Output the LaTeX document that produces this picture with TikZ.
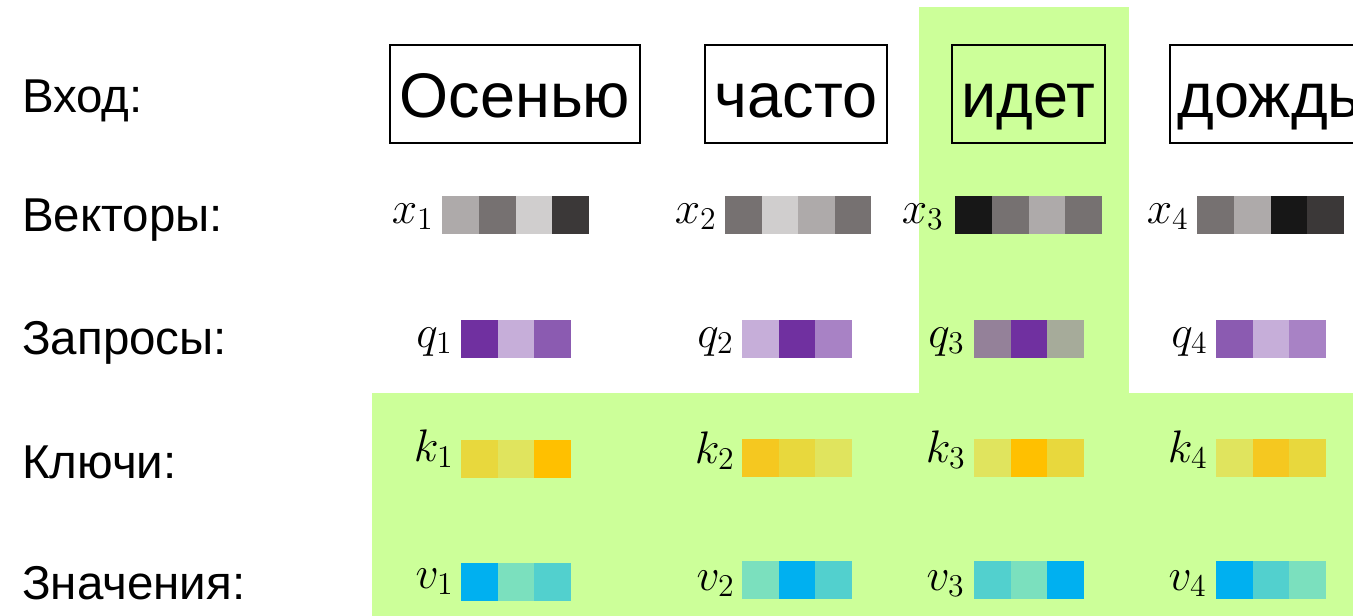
\documentclass[tikz,border=0pt]{standalone}
\usepackage{graphicx}
\usepackage{fontspec}
\setmainfont{Liberation Sans}
\definecolor{hl}{HTML}{CCFF99}
\definecolor{g1}{HTML}{AEAAAA}
\definecolor{g2}{HTML}{767171}
\definecolor{g3}{HTML}{D0CECE}
\definecolor{g4}{HTML}{3B3838}
\definecolor{g5}{HTML}{171717}
\definecolor{p1}{HTML}{7030A0}
\definecolor{p2}{HTML}{C6AED9}
\definecolor{p3}{HTML}{8B5BB1}
\definecolor{p4}{HTML}{A882C5}
\definecolor{p5}{HTML}{948199}
\definecolor{p6}{HTML}{A6AB9A}
\definecolor{y1}{HTML}{E8D83D}
\definecolor{y2}{HTML}{E0E45E}
\definecolor{y3}{HTML}{FFC000}
\definecolor{y4}{HTML}{F5C820}
\definecolor{b1}{HTML}{00B0F0}
\definecolor{b2}{HTML}{7BE0BE}
\definecolor{b3}{HTML}{52D0CE}
\newcommand{\vecblock}[5]{%
  \foreach \c [count=\i] in {#5} {
    \node[cell, fill=\c, minimum width=#4pt, anchor=west] (#1-\i) at ({#2+(\i-1)*#4}, #3) {};
  }}
\newcommand{\mylab}[1]{\scalebox{2.2}{\huge$#1$}}
\begin{document}
\begin{tikzpicture}[x=1pt, y=-1pt,
  cell/.style={draw=none, minimum height=38pt, inner sep=0pt, outer sep=0pt},
  wordbox/.style={draw=black, line width=1.8pt, minimum height=98pt, inner xsep=10pt,
    text height=47pt, text depth=0pt, font=\fontsize{63}{68}\selectfont},
  rowlab/.style={anchor=base west, inner sep=0pt, font=\fontsize{47.5}{52}\selectfont},
  mlab/.style={anchor=base east, inner sep=0pt}]
\useasboundingbox (0,0) rectangle (1353,616);
\clip (0,0) rectangle (1353,616);
% highlight
\fill[hl] (919,7) rectangle (1129,393);
\fill[hl] (372,393) rectangle (1353,616);
% row labels
\node[rowlab] (l0) at (22,112) {Вход:};
\node[rowlab] (l1) at (22,231) {Векторы:};
\node[rowlab] (l2) at (22,354) {Запросы:};
\node[rowlab] (l3) at (22,478) {Ключи:};
\node[rowlab] (l4) at (22,599) {Значения:};
% words
\node[wordbox, minimum width=250pt] (w1) at (515,94) {Осенью};
\node[wordbox, minimum width=182pt] (w2) at (796,94) {часто};
\node[wordbox, minimum width=153pt] (w3) at (1028.5,94) {идет};
\node[wordbox, anchor=west, inner xsep=8pt] (w4) at (1169,94) {дождь};
% vectors
\vecblock{x1}{442}{215}{36.75}{g1,g2,g3,g4}
\vecblock{x2}{725}{215}{36.5}{g2,g3,g1,g2}
\vecblock{x3}{955}{215}{36.75}{g5,g2,g1,g2}
\vecblock{x4}{1197}{215}{36.75}{g2,g1,g5,g4}
\node[mlab] (lx1) at (434,223) {\mylab{x_1}};
\node[mlab] (lx2) at (717,223) {\mylab{x_2}};
\node[mlab] (lx3) at (944,223) {\mylab{x_3}};
\node[mlab] (lx4) at (1189,223) {\mylab{x_4}};
% queries
\vecblock{q1}{461}{339}{36.67}{p1,p2,p3}
\vecblock{q2}{742}{339}{36.67}{p2,p1,p4}
\vecblock{q3}{974}{339}{36.67}{p5,p1,p6}
\vecblock{q4}{1216}{339}{36.67}{p3,p2,p4}
\node[mlab] (lq1) at (453,347) {\mylab{q_1}};
\node[mlab] (lq2) at (734,347) {\mylab{q_2}};
\node[mlab] (lq3) at (965,347) {\mylab{q_3}};
\node[mlab] (lq4) at (1208,347) {\mylab{q_4}};
% keys
\vecblock{k1}{461}{459}{36.67}{y1,y2,y3}
\vecblock{k2}{742}{458}{36.67}{y4,y1,y2}
\vecblock{k3}{974}{458}{36.67}{y2,y3,y1}
\vecblock{k4}{1216}{458}{36.67}{y2,y4,y1}
\node[mlab] (lk1) at (454,461) {\mylab{k_1}};
\node[mlab] (lk2) at (735,463) {\mylab{k_2}};
\node[mlab] (lk3) at (966,462) {\mylab{k_3}};
\node[mlab] (lk4) at (1208,462) {\mylab{k_4}};
% values
\vecblock{v1}{461}{582}{36.67}{b1,b2,b3}
\vecblock{v2}{742}{580}{36.67}{b2,b1,b3}
\vecblock{v3}{974}{580}{36.67}{b3,b2,b1}
\vecblock{v4}{1216}{580}{36.67}{b1,b3,b2}
\node[mlab] (lv1) at (454,588) {\mylab{v_1}};
\node[mlab] (lv2) at (735,590) {\mylab{v_2}};
\node[mlab] (lv3) at (965,590) {\mylab{v_3}};
\node[mlab] (lv4) at (1207,590) {\mylab{v_4}};
\end{tikzpicture}
\end{document}
